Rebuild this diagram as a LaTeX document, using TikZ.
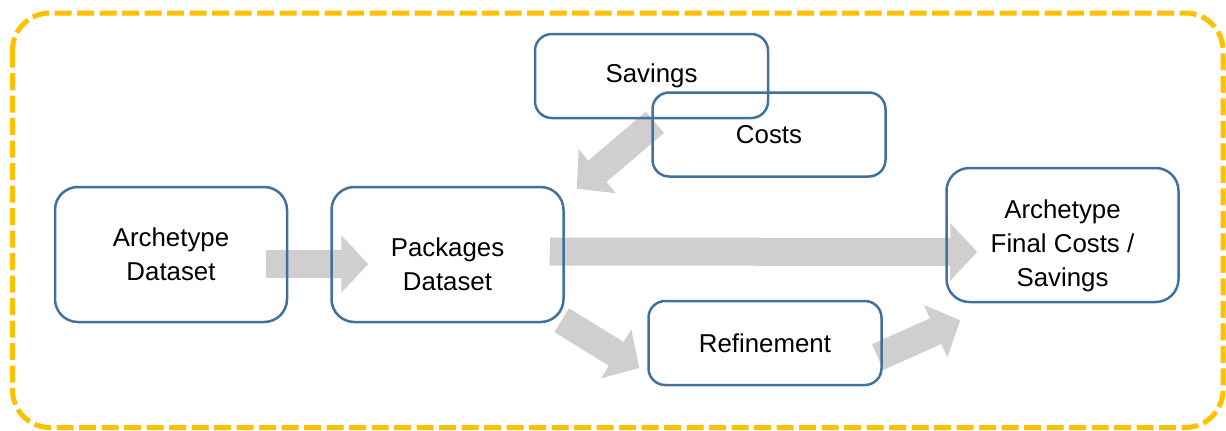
\documentclass[tikz,border=0pt]{standalone}
\usepackage{fontspec}
\setmainfont{Liberation Sans}
\usetikzlibrary{arrows.meta,calc,backgrounds}
\definecolor{FrameGold}{RGB}{255,192,0}
\definecolor{BoxBlue}{RGB}{65,113,156}
\definecolor{FlowGrey}{RGB}{208,206,206}
\newcommand{\pxu}{0.48pt}

\begin{document}
\begin{tikzpicture}[
  x=\pxu, y=-\pxu,
  txt/.style={align=center,font=\fontsize{12.4}{16.4}\selectfont},
  box/.style={rectangle,draw=BoxBlue,line width=1.2pt,rounded corners=11pt,txt,inner sep=0pt},
  smallbox/.style={box,rounded corners=8pt,minimum width=233*\pxu,minimum height=84*\pxu},
  bigbox/.style={box,minimum width=232*\pxu,minimum height=135*\pxu},
  flow/.style={draw=FlowGrey,line width=13.44pt,-{Triangle[length=12.96pt,width=26.9pt]}},
  frame/.style={draw=FrameGold,line width=2.4pt,dash pattern=on 8.16pt off 2.64pt,rounded corners=18pt}
]
\useasboundingbox (0,0) rectangle (1226,430);
\draw[frame] (12.5,13) rectangle (1223,427.5);

\node[bigbox] (arch) at (171,254.5) {Archetype\\Dataset};
\node[bigbox,label={[txt,yshift=-10*\pxu]center:Packages\\Dataset}] (pack) at (447.5,254.5) {};
\node[smallbox] (savings) at (651.5,76) {Savings};
\node[smallbox] (costs) at (769,134.5) {Costs};
\node[smallbox] (refine) at (765,343) {Refinement};
\node[bigbox,minimum height=134*\pxu,label={[txt,yshift=-11*\pxu]center:Archetype\\Final Costs /\\Savings}] (final) at (1062.5,235) {};

% grey block arrows sit behind the box outlines
\begin{pgfonlayer}{background}
\draw[flow] ($(arch.east)+(-22,9.5)$) -- ($(pack.west)+(38,9.5)$);
\draw[flow] ($(pack.east)+(-15,-3)$) -- ($(final.west)+(32,17)$);
\draw[flow] ($(savings.south)+(3.5,3)$) -- ($(pack.north east)+(12,3)$);
\draw[flow] ($(pack.south east)+(-3,-3)$) -- ($(refine.west)+(-8,25)$);
\draw[flow] ($(refine.east)+(-5,14)$) -- ($(final.south west)+(15,17)$);
\end{pgfonlayer}
\end{tikzpicture}
\end{document}
